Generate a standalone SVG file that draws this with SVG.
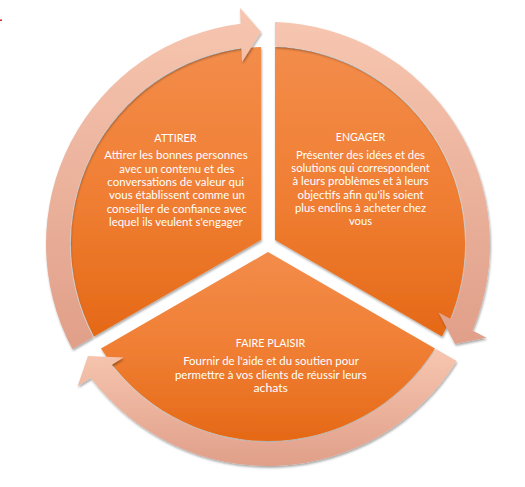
<svg xmlns="http://www.w3.org/2000/svg" width="525" height="487" viewBox="0 0 525 487">
  <defs>
    <linearGradient id="gSector" x1="0" y1="0" x2="0" y2="1">
      <stop offset="0" stop-color="#F38C4A"/>
      <stop offset="0.5" stop-color="#F07F34"/>
      <stop offset="1" stop-color="#E56917"/>
    </linearGradient>
    <linearGradient id="gRing" x1="0" y1="0" x2="0" y2="1">
      <stop offset="0" stop-color="#F7C6B0"/>
      <stop offset="1" stop-color="#E09F89"/>
    </linearGradient>
    <filter id="shadow" x="-10%" y="-10%" width="120%" height="125%">
      <feDropShadow dx="0.8" dy="1.8" stdDeviation="1.3" flood-color="#000" flood-opacity="0.35"/>
    </filter>
    <style>
      .sector { fill: url(#gSector); filter: url(#shadow); }
      .arrow { fill: url(#gRing); filter: url(#shadow); }
      .t { font-family: Lato, "Open Sans", "Liberation Sans", sans-serif; font-size: 11.5px; fill: #FFFFFF; text-anchor: middle; }
    </style>
  </defs>
  <rect width="525" height="487" fill="#FFFFFF"/>
  <rect x="0" y="19.5" width="2" height="1.5" fill="#E02020"/>

  <g id="attirer">
    <path class="sector" d="M261 239.96 L94 336.38 A197 197 0 0 1 261 47.12 Z"/>
    <text class="t" x="175.5" y="141.7" textLength="42.3" lengthAdjust="spacingAndGlyphs">ATTIRER</text>
    <text class="t" x="176" y="159.3" textLength="143.3" lengthAdjust="spacingAndGlyphs">Attirer les bonnes personnes</text>
    <text class="t" x="176.8" y="172.6" textLength="115" lengthAdjust="spacingAndGlyphs">avec un contenu et des</text>
    <text class="t" x="175.7" y="185.9" textLength="136.7" lengthAdjust="spacingAndGlyphs">conversations de valeur qui</text>
    <text class="t" x="177" y="199.2" textLength="136" lengthAdjust="spacingAndGlyphs">vous établissent comme un</text>
    <text class="t" x="176.7" y="212.5" textLength="140" lengthAdjust="spacingAndGlyphs">conseiller de confiance avec</text>
    <text class="t" x="175.8" y="225.8" textLength="133.7" lengthAdjust="spacingAndGlyphs">lequel ils veulent s'engager</text>
  </g>

  <g id="engager">
    <path class="sector" d="M275 239.96 L275 47.12 A197 197 0 0 1 442 336.38 Z"/>
    <text class="t" x="360.5" y="141.3" textLength="49.3" lengthAdjust="spacingAndGlyphs">ENGAGER</text>
    <text class="t" x="360.5" y="158.8" textLength="129" lengthAdjust="spacingAndGlyphs">Présenter des idées et des</text>
    <text class="t" x="360.5" y="172.1" textLength="138.5" lengthAdjust="spacingAndGlyphs">solutions qui correspondent</text>
    <text class="t" x="360.5" y="185.4" textLength="136" lengthAdjust="spacingAndGlyphs">à leurs problèmes et à leurs</text>
    <text class="t" x="360.5" y="198.7" textLength="126" lengthAdjust="spacingAndGlyphs">objectifs afin qu'ils soient</text>
    <text class="t" x="360.5" y="212" textLength="131" lengthAdjust="spacingAndGlyphs">plus enclins à acheter chez</text>
    <text class="t" x="360.5" y="225.3" textLength="23" lengthAdjust="spacingAndGlyphs">vous</text>
  </g>

  <g id="faire-plaisir">
    <path class="sector" d="M268 252.08 L435 348.5 A197 197 0 0 1 101 348.5 Z"/>
    <text class="t" x="270.5" y="346.8" textLength="69.3" lengthAdjust="spacingAndGlyphs">FAIRE PLAISIR</text>
    <text class="t" x="271" y="365.2" textLength="175.7" lengthAdjust="spacingAndGlyphs">Fournir de l'aide et du soutien pour</text>
    <text class="t" x="270.8" y="378.5" textLength="191.7" lengthAdjust="spacingAndGlyphs">permettre à vos clients de réussir leurs</text>
    <text class="t" x="270.7" y="391.8" textLength="34.5" lengthAdjust="spacingAndGlyphs">achats</text>
  </g>

  <g id="connectors">
    <path class="arrow" d="M72.34 348.88 A222 222 0 0 1 240.58 23.7 L240 8 L261 32 L242 62 L241.48 47.78 A198 198 0 0 0 93.14 336.88 Z"/>
    <path class="arrow" d="M275 22.11 A222 222 0 0 1 472.49 330.4 L486.38 337.75 L455.09 343.94 L438.61 312.48 L451.19 319.14 A198 198 0 0 0 275 46.13 Z"/>
    <path class="arrow" d="M456.66 361 A222 222 0 0 1 90.93 377.9 L77.62 386.25 L87.91 356.06 L123.39 357.52 L111.33 365.08 A198 198 0 0 0 435.86 348.99 Z"/>
  </g>
</svg>
